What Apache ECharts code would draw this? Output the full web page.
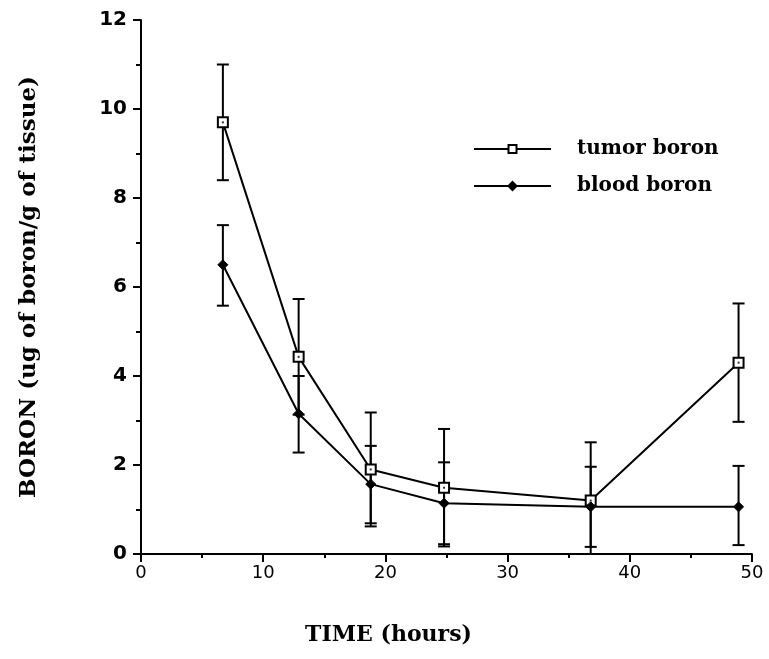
<!DOCTYPE html>
<html>
<head>
<meta charset="utf-8">
<script src="https://cdn.jsdelivr.net/npm/echarts@6/dist/echarts.min.js"></script>
<style>html,body{margin:0;padding:0;background:#fff}#c{width:769px;height:659px}</style>
</head>
<body>
<div id="c"></div>
<script>
// Data
var times = [6.7, 12.9, 18.8, 24.8, 36.8, 48.9];
var tumorBoron = [9.7, 4.43, 1.9, 1.49, 1.2, 4.3];
var tumorHigh = [11.0, 5.73, 3.18, 2.81, 2.51, 5.63];
var tumorLow = [8.4, 3.13, 0.62, 0.17, 0.0, 2.97];
var bloodBoron = [6.5, 3.15, 1.57, 1.14, 1.06, 1.06];
var bloodHigh = [7.39, 4.0, 2.43, 2.06, 1.96, 1.98];
var bloodLow = [5.58, 2.28, 0.69, 0.22, 0.16, 0.2];
var xTicks = [0, 10, 20, 30, 40, 50];
var yTicks = [0, 2, 4, 6, 8, 10, 12];

function pairs(xs, ys) { return xs.map(function (x, i) { return [x, ys[i]]; }); }
function errData(xs, lo, hi) { return xs.map(function (x, i) { return [x, lo[i], hi[i]]; }); }

function errRender(params, api) {
  var x = api.value(0);
  var p1 = api.coord([x, api.value(1)]);
  var p2 = api.coord([x, api.value(2)]);
  var hw = 6;
  var st = { stroke: '#000', lineWidth: 2 };
  return {
    type: 'group',
    children: [
      { type: 'line', shape: { x1: p1[0], y1: p1[1], x2: p2[0], y2: p2[1] }, style: st },
      { type: 'line', shape: { x1: p1[0] - hw, y1: p1[1], x2: p1[0] + hw, y2: p1[1] }, style: st },
      { type: 'line', shape: { x1: p2[0] - hw, y1: p2[1], x2: p2[0] + hw, y2: p2[1] }, style: st }
    ]
  };
}

var chart = echarts.init(document.getElementById('c'), null, { renderer: 'canvas' });
var titleFont = { fontFamily: 'DejaVu Serif', fontWeight: 'bold', fontSize: 22, color: '#000' };
chart.setOption({
  animation: false,
  backgroundColor: '#fff',
  grid: { left: 141, right: 17, top: 20, bottom: 105, containLabel: false },
  legend: {
    orient: 'vertical',
    left: 468,
    top: 134,
    itemWidth: 77,
    itemHeight: 10,
    itemGap: 17,
    data: ['tumor boron', 'blood boron'],
    textStyle: { fontFamily: 'DejaVu Serif', fontWeight: 'bold', fontSize: 20, color: '#000', padding: [0, 0, 0, 21] }
  },
  xAxis: {
    type: 'value',
    min: 0, max: 50, interval: 10,
    name: 'TIME (hours)',
    nameLocation: 'middle',
    nameGap: 70,
    nameTextStyle: Object.assign({}, titleFont, { padding: [0, 116, 0, 0] }),
    axisLine: { onZero: false, lineStyle: { color: '#000', width: 2 } },
    axisTick: { length: 8, lineStyle: { color: '#000', width: 2 } },
    minorTick: { show: true, splitNumber: 2, length: 4, lineStyle: { color: '#000', width: 2 } },
    splitLine: { show: false },
    axisLabel: { margin: 10, fontFamily: 'DejaVu Sans', fontSize: 18, color: '#000',
      customValues: xTicks }
  },
  yAxis: {
    type: 'value',
    min: 0, max: 12, interval: 2,
    name: 'BORON (ug of boron/g of tissue)',
    nameLocation: 'middle',
    nameRotate: 90,
    nameGap: 100,
    nameTextStyle: Object.assign({}, titleFont, { fontSize: 23 }),
    axisLine: { show: true, lineStyle: { color: '#000', width: 2 } },
    axisTick: { show: true, length: 8, lineStyle: { color: '#000', width: 2 } },
    minorTick: { show: true, splitNumber: 2, length: 5, lineStyle: { color: '#000', width: 2 } },
    splitLine: { show: false },
    axisLabel: { margin: 14, fontFamily: 'DejaVu Sans', fontWeight: 'bold', fontSize: 20, color: '#000',
      customValues: yTicks }
  },
  series: [
    {
      name: 'tumor boron', type: 'line', data: pairs(times, tumorBoron),
      symbol: 'rect', symbolSize: 10, showAllSymbol: true, z: 5,
      lineStyle: { color: '#000', width: 2 },
      itemStyle: { color: '#fff', borderColor: '#000', borderWidth: 2 }
    },
    {
      name: 'blood boron', type: 'line', data: pairs(times, bloodBoron),
      symbol: 'diamond', symbolSize: 10, z: 5,
      lineStyle: { color: '#000', width: 2 },
      itemStyle: { color: '#000', borderColor: '#000', borderWidth: 1 }
    },
    {
      type: 'custom', name: 'tumorErr', renderItem: errRender, data: errData(times, tumorLow, tumorHigh),
      encode: { x: 0, y: [1, 2] }, z: 3, silent: true
    },
    {
      type: 'custom', name: 'bloodErr', renderItem: errRender, data: errData(times, bloodLow, bloodHigh),
      encode: { x: 0, y: [1, 2] }, z: 3, silent: true
    },
    {
      type: 'scatter', name: 'tumorDot', data: pairs(times, tumorBoron), symbol: 'rect', symbolSize: 2,
      itemStyle: { color: '#000' }, z: 6, silent: true
    }
  ]
});
</script>
</body>
</html>
